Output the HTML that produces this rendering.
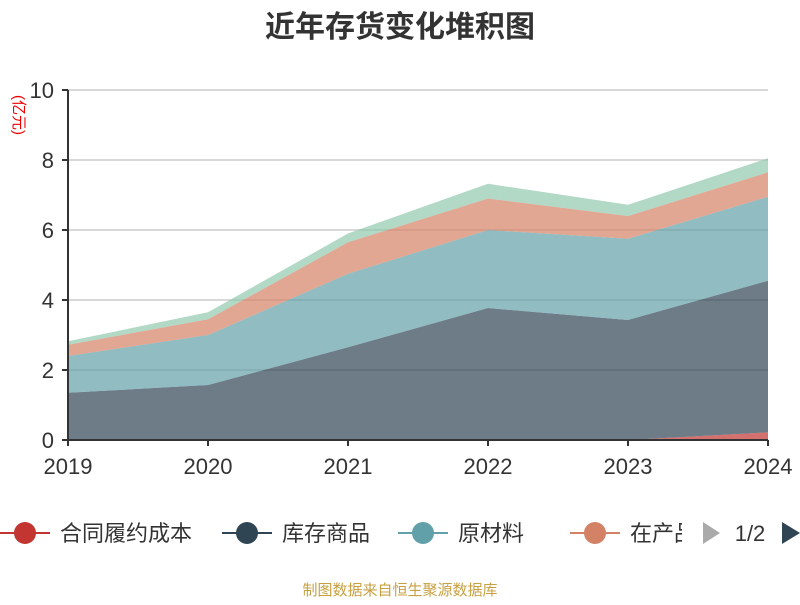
<!DOCTYPE html>
<html><head><meta charset="utf-8"><style>
body{margin:0;background:#fff;width:800px;height:600px;overflow:hidden;font-family:"Liberation Sans","Noto Sans CJK SC",sans-serif}
</style></head><body>
<svg width="800" height="600" font-family="Liberation Sans, Noto Sans CJK SC, sans-serif">
<text x="400" y="37" text-anchor="middle" font-size="30" font-weight="bold" fill="#333">近年存货变化堆积图</text>
<text transform="translate(14,115) rotate(90)" text-anchor="middle" font-size="15" fill="#e00">(亿元)</text>
<g id="grid"></g><g id="areas"></g><g id="axes"></g><g id="legend"></g>
<text x="400" y="595" text-anchor="middle" font-size="15" fill="#c8a040">制图数据来自恒生聚源数据库</text>
</svg>
<script>
const categories=["2019","2020","2021","2022","2023","2024"];
const seriesNames=["合同履约成本","库存商品","原材料","在产品"];
const contractCost=[0,0,0,0,0,0.22];
const finishedGoods=[1.35,1.57,2.65,3.77,3.43,4.33];
const rawMaterials=[1.05,1.43,2.1,2.23,2.32,2.4];
const wip=[0.32,0.45,0.9,0.9,0.65,0.7];
const other=[0.1,0.2,0.25,0.42,0.32,0.4];
const yTicks=[0,2,4,6,8,10];
const NS="http://www.w3.org/2000/svg";
const x0=68,x1=768,yb=440,yt=90,ymax=10;
const X=i=>x0+i*(x1-x0)/(categories.length-1);
const Y=v=>yb-v*(yb-yt)/ymax;
function mk(t,a,p){const e=document.createElementNS(NS,t);for(const k in a)e.setAttribute(k,a[k]);p.appendChild(e);return e;}
const grid=document.getElementById('grid'),areas=document.getElementById('areas'),axes=document.getElementById('axes'),legend=document.getElementById('legend');
yTicks.forEach(v=>{
 if(v>0){const l=mk('line',{x1:x0,x2:x1,y1:Y(v),y2:Y(v),stroke:'#ccc','stroke-width':1.5},grid);
 
 }
 const t=mk('text',{x:x0-14,y:Y(v)+8,'text-anchor':'end','font-size':22,fill:'#333'},axes);t.textContent=v;
 
 
 mk('line',{x1:x0-6,x2:x0,y1:Y(v),y2:Y(v),stroke:'#333','stroke-width':2},axes);
});
const all=[contractCost,finishedGoods,rawMaterials,wip,other];
const colors=['#c23531','#2f4554','#61a0a8','#d48265','#91c7ae'];
const names=['contract-cost','finished-goods','raw-materials','wip','other'];
let base=categories.map(()=>0);
all.forEach((s,k)=>{
 const top=base.map((b,i)=>b+s[i]);
 let d='M'+top.map((v,i)=>X(i)+','+Y(v)).join('L');
 for(let i=categories.length-1;i>=0;i--)d+='L'+X(i)+','+Y(base[i]);
 const p=mk('path',{d:d+'Z',fill:colors[k],'fill-opacity':0.7},areas);
 
 
 base=top;
});
mk('line',{x1:x0,x2:x0,y1:yt,y2:yb,stroke:'#333','stroke-width':2},axes);
mk('line',{x1:x0,x2:x1,y1:yb,y2:yb,stroke:'#333','stroke-width':2},axes);
categories.forEach((c,i)=>{
 mk('line',{x1:X(i),x2:X(i),y1:yb,y2:yb+6,stroke:'#333','stroke-width':2},axes);
 const t=mk('text',{x:X(i),y:474,'text-anchor':'middle','font-size':22,fill:'#333'},axes);t.textContent=c;
 
 
});
const lx=[0,222,398,570];
seriesNames.forEach((n,k)=>{
 const g=mk('g',{},legend);
 
 
 mk('line',{x1:lx[k],x2:lx[k]+50,y1:533,y2:533,stroke:colors[k],'stroke-width':2},g);
 mk('circle',{cx:lx[k]+25,cy:533,r:11,fill:colors[k]},g);
 const t=mk('text',{x:lx[k]+60,y:541,'font-size':22,fill:'#333'},g);t.textContent=n;
});
mk('rect',{x:682,y:515,width:30,height:40,fill:'#fff'},legend);
const pl=mk('path',{d:'M720,533L703,522V544Z',fill:'#aaa'},legend);


const pt=mk('text',{x:750,y:541,'text-anchor':'middle','font-size':22,fill:'#333'},legend);pt.textContent='1/2';


const pn=mk('path',{d:'M782,522L800,533L782,544Z',fill:'#2f4554'},legend);


</script>
</body></html>
